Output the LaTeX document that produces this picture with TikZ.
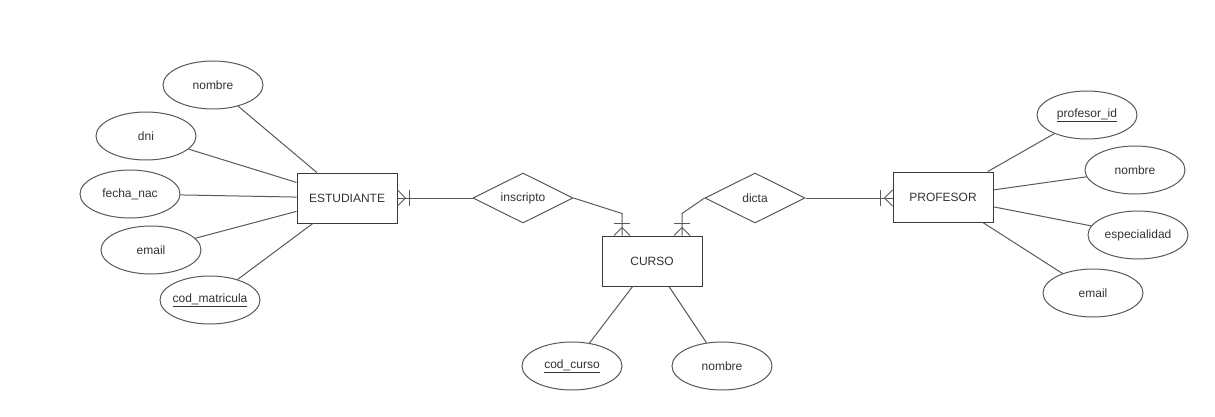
\documentclass[tikz,border=0pt]{standalone}
\usepackage{fontspec}
\setmainfont{Liberation Sans}
\usetikzlibrary{shapes.geometric,calc}
\definecolor{edgegray}{HTML}{595959}
\definecolor{boxline}{HTML}{3A3A3A}
\definecolor{txt}{HTML}{333333}
% attribute labels take no width of their own, so every ellipse keeps its size
\newcommand{\attrlabel}[1]{\makebox[0pt][c]{#1}}
\tikzset{
  base/.style={font=\fontsize{12}{14}\selectfont, text=txt, inner sep=0pt},
  entity/.style={base, draw=boxline, line width=1pt, fill=white,
    rectangle, minimum width=100, minimum height=50},
  attr/.style={base, draw=edgegray, line width=1pt, fill=white,
    ellipse, minimum width=100, minimum height=48},
  relation/.style={base, draw=edgegray, line width=1pt, fill=white,
    diamond, aspect=2, minimum width=100, minimum height=50},
  conn/.style={draw=edgegray, line width=1pt},
  pics/crowfoot/.style={code={
    \draw[conn] (0,-8) -- (8,0) -- (0,8);
    \draw[conn] (12,-8) -- (12,8);
  }}
}
\begin{document}
\begin{tikzpicture}[x=1pt, y=-1pt]
\useasboundingbox (0,0) rectangle (1215,417);

% entities
\node[entity] (est)   at (347,198) {ESTUDIANTE};
\node[entity] (curso) at (652,261) {CURSO};
\node[entity] (prof)  at (943,197) {PROFESOR};

% relationships
\node[relation] (ins) at (523,198) {inscripto};
\node[relation] (dic) at (755,198) {dicta};

% ESTUDIANTE attributes
\node[attr] (enom) at (213,85)  {\attrlabel{nombre}};
\node[attr] (edni) at (146,136) {\attrlabel{dni}};
\node[attr] (efec) at (130,194) {\attrlabel{fecha\_nac}};
\node[attr] (eema) at (151,250) {\attrlabel{email}};
\node[attr] (ecod) at (210,300) {\attrlabel{\underline{cod\_matricula}}};

% CURSO attributes
\node[attr] (ccod) at (572,366) {\attrlabel{\underline{cod\_curso}}};
\node[attr] (cnom) at (722,366) {\attrlabel{nombre}};

% PROFESOR attributes
\node[attr] (pid)  at (1087,115) {\attrlabel{\underline{profesor\_id}}};
\node[attr] (pnom) at (1135,170) {\attrlabel{nombre}};
\node[attr] (pesp) at (1138,235) {\attrlabel{especialidad}};
\node[attr] (pema) at (1093,293) {\attrlabel{email}};

% attribute links
\foreach \a in {enom,edni,efec,eema,ecod} \draw[conn] (\a) -- (est);
\foreach \a in {ccod,cnom} \draw[conn] (\a) -- (curso);
\foreach \a in {pid,pnom,pesp,pema} \draw[conn] (\a) -- (prof);

% attachment points on top of CURSO and their bends
\coordinate (k1)  at ($(curso.north)+(-30,0)$);
\coordinate (k1b) at ($(k1)+(0,-22)$);
\coordinate (k2)  at ($(curso.north)+(30,0)$);
\coordinate (k2b) at ($(k2)+(0,-22)$);

% relationship links
\draw[conn] (est.east) -- (ins.west);
\draw[conn] (ins.east) -- (k1b) -- (k1);
\draw[conn] (dic.west) -- (k2b) -- (k2);
\draw[conn] (dic.east) -- (dic.east -| prof.west);

% one-or-many ends
\pic at (est.east) {crowfoot};
\pic[rotate=90] at (k1) {crowfoot};
\pic[rotate=90] at (k2) {crowfoot};
\pic[rotate=180] at (dic.east -| prof.west) {crowfoot};
\end{tikzpicture}
\end{document}
